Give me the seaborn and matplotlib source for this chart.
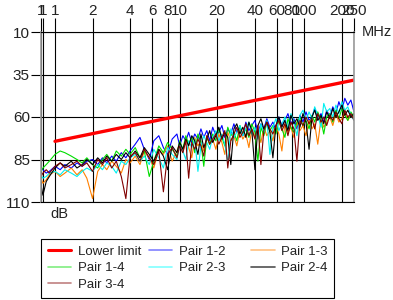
import numpy as np
import pandas as pd
import matplotlib
matplotlib.use("Agg")
import matplotlib.pyplot as plt
import seaborn as sns
from matplotlib.lines import Line2D
from matplotlib.ticker import NullLocator

# ---------------- data ----------------
freq = [0.772, 0.8, 0.85, 0.9, 1.0, 1.1, 1.2, 1.35, 1.5, 1.65,
        1.8, 2.0, 2.2, 2.4, 2.6, 2.85, 3.1, 3.4, 3.7, 4.0,
        4.4, 4.8, 5.2, 5.7, 6.2, 6.8, 7.4, 8.0, 8.7, 9.5,
        10.0, 10.6, 11.2, 11.8, 12.5, 13.2, 14.0, 14.8, 15.6, 16.5,
        17.4, 18.4, 19.5, 20.6, 21.8, 23.0, 24.3, 25.7, 27.2, 28.7,
        30.4, 32.1, 33.9, 35.9, 37.9, 40.1, 42.4, 44.8, 47.3, 50.0,
        52.9, 55.9, 59.1, 62.4, 66.0, 69.8, 73.8, 78.0, 82.4, 87.1,
        92.1, 97.4, 103, 109, 115, 121, 128, 136, 143, 151,
        160, 169, 179, 189, 200, 211, 223, 236, 250]

limit_freq = [1, 250]
limit_db = [74.3, 38.3]

pair_12 = [90, 91, 93, 92, 89, 91, 88, 90, 87, 89,
           86, 85, 88, 84, 87, 83, 86, 81, 84, 80,
           76, 72, 79, 85, 74, 71, 78, 82, 73, 70,
           77, 71, 74, 69, 75, 70, 73, 67, 72, 68,
           74, 66, 71, 69, 65, 72, 67, 70, 64, 69,
           66, 71, 63, 68, 65, 62, 69, 64, 67, 61,
           66, 63, 68, 60, 65, 62, 58, 64, 61, 67,
           59, 63, 57, 62, 60, 55, 61, 58, 63, 56,
           60, 54, 58, 51, 56, 49, 53, 50, 57]
pair_13 = [96, 99, 97, 94, 92, 95, 93, 90, 94, 91,
           96, 108, 92, 88, 91, 86, 89, 93, 85, 87,
           83, 88, 80, 84, 90, 79, 82, 77, 86, 80,
           75, 81, 73, 78, 84, 72, 77, 74, 80, 71,
           76, 73, 79, 70, 75, 82, 69, 74, 71, 77,
           68, 73, 70, 78, 67, 72, 69, 75, 66, 71,
           68, 74, 65, 70, 80, 64, 69, 66, 72, 63,
           68, 65, 71, 62, 67, 64, 76, 61, 66, 63,
           60, 65, 58, 63, 61, 57, 62, 59, 61]
pair_14 = [92, 90, 88, 86, 82, 80, 81, 83, 85, 87,
           84, 88, 90, 85, 82, 86, 80, 83, 79, 82,
           78, 84, 80, 95, 86, 77, 81, 75, 79, 83,
           74, 79, 71, 76, 72, 81, 70, 75, 89, 72,
           76, 70, 74, 67, 72, 77, 66, 71, 69, 74,
           65, 70, 67, 72, 64, 69, 86, 66, 71, 63,
           68, 65, 70, 62, 67, 72, 61, 66, 69, 63,
           60, 65, 62, 67, 59, 63, 57, 62, 70, 60,
           58, 63, 56, 61, 55, 59, 62, 57, 60]
pair_23 = [94, 96, 95, 93, 92, 94, 91, 93, 95, 92,
           90, 92, 88, 91, 87, 89, 93, 86, 88, 84,
           82, 86, 83, 88, 79, 84, 90, 78, 82, 85,
           76, 80, 85, 74, 78, 73, 92, 77, 71, 75,
           79, 72, 68, 74, 70, 76, 87, 67, 72, 69,
           65, 71, 67, 63, 70, 66, 73, 64, 69, 62,
           82, 66, 61, 68, 64, 60, 67, 58, 63, 71,
           59, 56, 62, 57, 61, 54, 59, 66, 52, 57,
           55, 60, 53, 58, 51, 56, 54, 59, 62]
pair_24 = [100, 106, 98, 95, 90, 87, 89, 86, 90, 88,
           85, 88, 84, 87, 83, 86, 82, 85, 81, 84,
           80, 84, 78, 82, 86, 79, 83, 91, 77, 81,
           75, 79, 73, 77, 71, 74, 82, 70, 78, 73,
           68, 75, 71, 66, 73, 69, 72, 88, 67, 64,
           70, 66, 72, 63, 68, 91, 65, 61, 67, 63,
           69, 84, 65, 60, 66, 62, 68, 59, 64, 61,
           66, 58, 63, 79, 60, 56, 62, 59, 64, 57,
           61, 55, 60, 57, 53, 59, 56, 60, 58]
pair_34 = [95, 93, 91, 93, 89, 87, 90, 88, 86, 89,
           87, 92, 85, 88, 84, 90, 86, 95, 108, 83,
           81, 86, 79, 84, 88, 80, 104, 82, 78, 84,
           77, 81, 74, 96, 75, 79, 73, 77, 83, 71,
           76, 73, 70, 76, 72, 68, 90, 74, 70, 66,
           72, 69, 64, 71, 67, 73, 65, 88, 68, 63,
           67, 70, 65, 62, 68, 64, 71, 63, 67, 86,
           62, 65, 60, 64, 61, 67, 58, 63, 60, 65,
           59, 62, 57, 61, 64, 56, 60, 58, 62]

pair_names = ["Pair 1-2", "Pair 1-3", "Pair 1-4", "Pair 2-3", "Pair 2-4", "Pair 3-4"]
pair_values = [pair_12, pair_13, pair_14, pair_23, pair_24, pair_34]
pair_colors = ["#0000ff", "#ff8000", "#00dd00", "#00f0f0", "#000000", "#800000"]
legend_colors = ["#8080ff", "#ffc080", "#80ee80", "#80ffff", "#505050", "#c08080"]

x_ticks = [0.772, 0.8, 1, 2, 4, 6, 8, 10, 20, 40, 60, 80, 100, 200, 250]
x_labels = ["1", "1", "1", "2", "4", "6", "8", "10", "20", "40", "60", "80", "100", "200", "250"]
y_ticks = [10, 35, 60, 85, 110]

# ---------------- plot ----------------
sns.set_style("white")
plt.rcParams["font.family"] = ["Liberation Sans", "DejaVu Sans"]

fig = plt.figure(figsize=(3.93, 3.0), dpi=100)
ax = fig.add_axes([41 / 393, 98 / 300, 313 / 393, 170 / 300])
ax.set_xscale("log")

rows = []
for name, vals in zip(pair_names, pair_values):
    for f, v in zip(freq, vals):
        rows.append((name, f, v))
df = pd.DataFrame(rows, columns=["pair", "freq", "dB"])

sns.lineplot(data=df, x="freq", y="dB", hue="pair", palette=dict(zip(pair_names, pair_colors)),
             lw=0.8, estimator=None, sort=False, legend=False, ax=ax)
sns.lineplot(x=limit_freq, y=limit_db, color="red", lw=2.4, ax=ax)

ax.set_xlim(0.772, 250)
ax.set_ylim(110, 10)
ax.set_xticks(x_ticks)
ax.set_xticklabels(x_labels)
ax.xaxis.set_minor_locator(NullLocator())
ax.set_yticks(y_ticks)
ax.set_xlabel("")
ax.set_ylabel("")
ax.xaxis.tick_top()
ax.tick_params(axis="x", which="major", top=True, bottom=False, labeltop=True, labelbottom=False,
               length=10, width=0.8, color="black", pad=0, labelsize=11, labelcolor="#222222")
ax.tick_params(axis="y", length=7, width=0.8, color="black", pad=1, labelsize=11, labelcolor="#222222", left=True)
ax.grid(True, color="black", lw=0.8)
for s in ["top", "bottom"]:
    ax.spines[s].set_color("black")
    ax.spines[s].set_linewidth(0.8)
for s in ["left", "right"]:
    ax.spines[s].set_color("#999999")
    ax.spines[s].set_linewidth(1.2)

fig.text(362 / 393, 1 - 32 / 300, "MHz", fontsize=10.5, va="center", ha="left", color="#222222")
fig.text(50 / 393, 1 - 214 / 300, "dB", fontsize=10.5, va="center", ha="left", color="#222222")

h_limit = Line2D([], [], color="red", lw=2.2)
h_pairs = [Line2D([], [], color=c, lw=1.2) for c in legend_colors]
labels_all = ["Lower limit"] + pair_names
handles_all = [h_limit] + h_pairs
order = [0, 3, 6, 1, 4, 2, 5]
handles = [handles_all[i] for i in order]
labels = [labels_all[i] for i in order]
labels = [l + ("     " if l in ("Pair 1-2", "Pair 2-3") else "") for l in labels]
leg = fig.legend(handles, labels, ncol=3, loc="upper left",
                 bbox_to_anchor=(41 / 393, 1 - 239 / 300), fontsize=9.5,
                 frameon=True, fancybox=False, edgecolor="black", framealpha=1,
                 handlelength=1.8, handletextpad=0.5, columnspacing=0.55,
                 labelspacing=0.33, borderpad=0.5, borderaxespad=0)
leg.get_frame().set_linewidth(0.8)
for t in leg.get_texts():
    t.set_color("#222222")

fig.savefig("out.png", dpi=100, facecolor="white")
